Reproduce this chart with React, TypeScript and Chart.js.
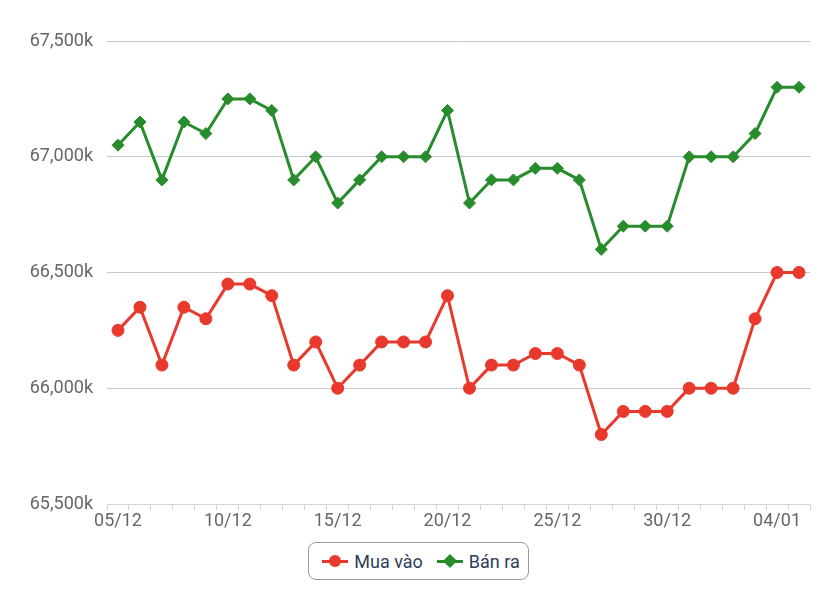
import React, { useEffect, useRef } from "react";
import { Chart, registerables } from "chart.js";

Chart.register(...registerables);

const labels = [
  "05/12", "06/12", "07/12", "08/12", "09/12", "10/12", "11/12", "12/12",
  "13/12", "14/12", "15/12", "16/12", "17/12", "18/12", "19/12", "20/12",
  "21/12", "22/12", "23/12", "24/12", "25/12", "26/12", "27/12", "28/12",
  "29/12", "30/12", "31/12", "01/01", "02/01", "03/01", "04/01", "05/01",
];

const muaVao = [
  66250, 66350, 66100, 66350, 66300, 66450, 66450, 66400,
  66100, 66200, 66000, 66100, 66200, 66200, 66200, 66400,
  66000, 66100, 66100, 66150, 66150, 66100, 65800, 65900,
  65900, 65900, 66000, 66000, 66000, 66300, 66500, 66500,
];

const banRa = [
  67050, 67150, 66900, 67150, 67100, 67250, 67250, 67200,
  66900, 67000, 66800, 66900, 67000, 67000, 67000, 67200,
  66800, 66900, 66900, 66950, 66950, 66900, 66600, 66700,
  66700, 66700, 67000, 67000, 67000, 67100, 67300, 67300,
];

const yTicks = [65500, 66000, 66500, 67000, 67500];

const RED = "#e8392c";
const GREEN = "#288c2c";
const FONT = "Roboto";

export default function App() {
  const ref = useRef<HTMLCanvasElement>(null);
  useEffect(() => {
    document.body.style.margin = "0";
    const chart = new Chart(ref.current!, {
      type: "line",
      data: {
        labels,
        datasets: [
          {
            label: "Mua vào",
            data: muaVao,
            borderColor: RED,
            backgroundColor: RED,
            borderWidth: 3,
            pointStyle: "circle",
            pointRadius: 6,
            pointBorderWidth: 1,
            tension: 0,
          },
          {
            label: "Bán ra",
            data: banRa,
            borderColor: GREEN,
            backgroundColor: GREEN,
            borderWidth: 3,
            pointStyle: "rectRot",
            pointRadius: 6,
            pointBorderWidth: 1,
            tension: 0,
          },
        ],
      },
      options: {
        responsive: false,
        animation: false,
        layout: { padding: { top: 41, right: 17, left: 0, bottom: 0 } },
        plugins: { legend: { display: false }, tooltip: { enabled: false } },
        scales: {
          x: {
            type: "category",
            offset: true,
            grid: {
              display: true,
              drawOnChartArea: false,
              drawTicks: true,
              tickLength: 6,
              color: "#ccd6e0",
              offset: true,
            },
            border: { display: true, color: "#ccd6e0", width: 1 },
            ticks: {
              autoSkip: false,
              maxRotation: 0,
              padding: 1,
              color: "#666",
              font: { family: FONT, size: 18 },
              callback: (_v: any, i: number) => (i % 5 === 0 ? labels[i] : ""),
            },
            afterFit: (s: any) => {
              s.height = 31;
            },
          },
          y: {
            min: yTicks[0],
            max: yTicks[yTicks.length - 1],
            afterBuildTicks: (s: any) => {
              s.ticks = yTicks.map((v) => ({ value: v }));
            },
            grid: { color: "#c8c8c8", drawTicks: false, lineWidth: 1 },
            border: { display: false },
            ticks: {
              padding: 14,
              color: "#666",
              font: { family: FONT, size: 18 },
              callback: (v: any) => Number(v).toLocaleString("en-US") + "k",
            },
            afterFit: (s: any) => {
              s.width = 107;
            },
          },
        },
      },
    });
    return () => chart.destroy();
  }, []);

  const marker = (color: string, diamond: boolean) => (
    <span style={{ position: "relative", display: "inline-block", width: 26, height: 14, marginRight: 6 }}>
      <span style={{ position: "absolute", left: 0, right: 0, top: 5.5, height: 3, background: color }} />
      <span
        style={{
          position: "absolute",
          left: diamond ? 8 : 7,
          top: diamond ? 2 : 1,
          width: diamond ? 10 : 12,
          height: diamond ? 10 : 12,
          background: color,
          borderRadius: diamond ? 0 : "50%",
          transform: diamond ? "rotate(45deg)" : "none",
        }}
      />
    </span>
  );

  return (
    <div style={{ width: 827, height: 600, fontFamily: FONT }}>
      <canvas ref={ref} width={827} height={535} style={{ display: "block", width: 827, height: 535 }} />
      <div style={{ display: "flex", justifyContent: "center", marginTop: 7 }}>
        <div
          style={{
            display: "inline-flex",
            alignItems: "center",
            height: 36,
            padding: "0 8px 0 13px",
            border: "1px solid #999",
            borderRadius: 8,
            fontSize: 18,
            color: "#2e4057",
            marginLeft: 10,
          }}
        >
          {marker(RED, false)}
          <span style={{ marginRight: 14 }}>Mua vào</span>
          {marker(GREEN, true)}
          <span>Bán ra</span>
        </div>
      </div>
    </div>
  );
}
